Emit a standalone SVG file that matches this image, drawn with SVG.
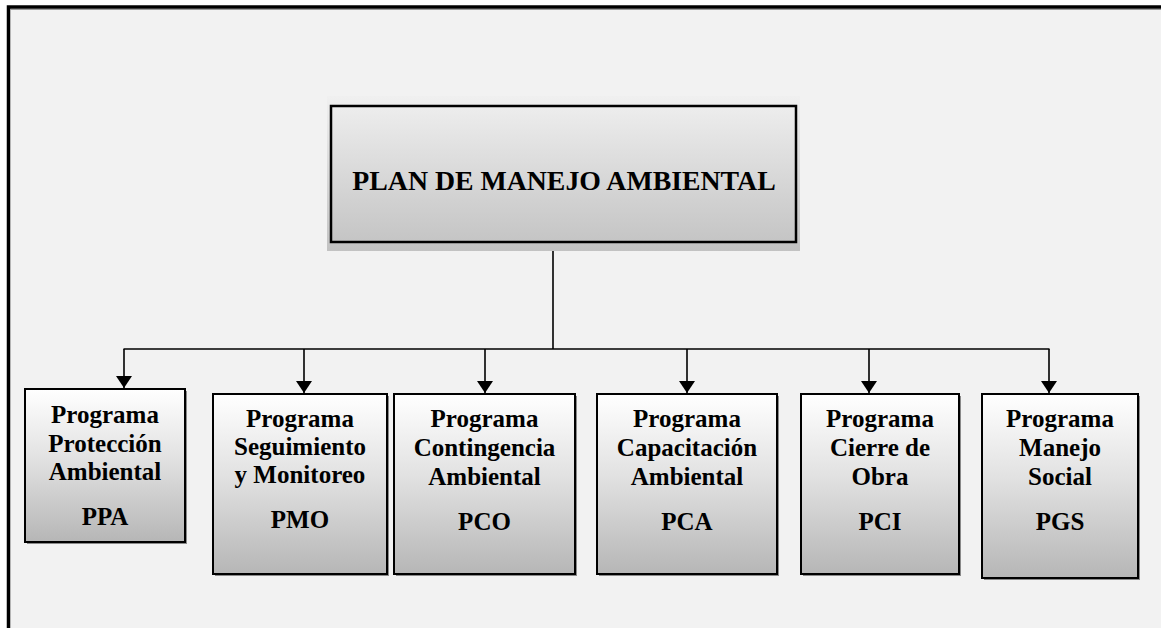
<svg xmlns="http://www.w3.org/2000/svg" width="1161" height="628" viewBox="0 0 1161 628">
<defs>
<linearGradient id="gTop" x1="0" y1="0" x2="0" y2="1">
<stop offset="0" stop-color="#f0f0f0"/>
<stop offset="1" stop-color="#c2c2c2"/>
</linearGradient>
<linearGradient id="gBox" x1="0" y1="0" x2="0" y2="1">
<stop offset="0" stop-color="#ffffff"/>
<stop offset="0.45" stop-color="#e2e2e2"/>
<stop offset="1" stop-color="#b6b6b6"/>
</linearGradient>
<marker id="arr" viewBox="0 0 12 16" refX="12" refY="8" markerWidth="12" markerHeight="16" markerUnits="userSpaceOnUse" orient="auto">
<path d="M0,0 L12,8 L0,16 Z" fill="#000"/>
</marker>
</defs>
<style>
text{font-family:'Liberation Serif','Times New Roman','DejaVu Serif',serif;font-weight:700;fill:#000;text-anchor:middle}
.title{font-size:27.8px}
.s{font-size:25px}
.box{fill:url(#gBox);stroke:#000;stroke-width:2}
.sh{fill:#8a8a8a}
.ln{stroke:#000;stroke-width:1.6;fill:none}
</style>
<rect x="0" y="0" width="1161" height="628" fill="#ffffff"/>
<rect x="8.5" y="7" width="1170" height="640" fill="#f2f2f2" stroke="#000" stroke-width="3.5"/>
<line x1="10" y1="9.5" x2="1161" y2="9.5" stroke="#9a9a9a" stroke-width="1"/>

<g id="connectors">
<line class="ln" x1="553" y1="251" x2="553" y2="349"/>
<line class="ln" x1="123.5" y1="349" x2="1049.5" y2="349" stroke-width="2"/>
<line class="ln" x1="124" y1="349" x2="124" y2="388" marker-end="url(#arr)"/>
<line class="ln" x1="304" y1="349" x2="304" y2="393" marker-end="url(#arr)"/>
<line class="ln" x1="485" y1="349" x2="485" y2="393" marker-end="url(#arr)"/>
<line class="ln" x1="687" y1="349" x2="687" y2="393" marker-end="url(#arr)"/>
<line class="ln" x1="869" y1="349" x2="869" y2="393" marker-end="url(#arr)"/>
<line class="ln" x1="1049" y1="349" x2="1049" y2="393" marker-end="url(#arr)"/>
</g>

<g id="plan">
<rect x="327" y="96" width="473" height="155" fill="url(#gTop)"/>
<rect x="331" y="106" width="465" height="136" fill="none" stroke="#000" stroke-width="2.5"/>
<text class="title" x="564" y="190">PLAN DE MANEJO AMBIENTAL</text>
</g>

<g id="ppa">
<rect class="sh" x="27" y="391" width="160" height="153"/>
<rect class="box" x="25" y="389" width="160" height="153"/>
<text class="s" x="105" y="423">Programa</text>
<text class="s" x="105" y="452">Protección</text>
<text class="s" x="105" y="480">Ambiental</text>
<text class="s" x="105" y="525">PPA</text>
</g>

<g id="pmo">
<rect class="sh" x="215" y="396" width="174" height="180"/>
<rect class="box" x="213" y="394" width="174" height="180"/>
<text class="s" x="300" y="427">Programa</text>
<text class="s" x="300" y="455">Seguimiento</text>
<text class="s" x="300" y="483">y Monitoreo</text>
<text class="s" x="300" y="528">PMO</text>
</g>

<g id="pco">
<rect class="sh" x="396" y="396" width="181" height="180"/>
<rect class="box" x="394" y="394" width="181" height="180"/>
<text class="s" x="484.5" y="427">Programa</text>
<text class="s" x="484.5" y="456">Contingencia</text>
<text class="s" x="484.5" y="485">Ambiental</text>
<text class="s" x="484.5" y="530">PCO</text>
</g>

<g id="pca">
<rect class="sh" x="599" y="396" width="180" height="180"/>
<rect class="box" x="597" y="394" width="180" height="180"/>
<text class="s" x="687" y="427">Programa</text>
<text class="s" x="687" y="456">Capacitación</text>
<text class="s" x="687" y="485">Ambiental</text>
<text class="s" x="687" y="530">PCA</text>
</g>

<g id="pci">
<rect class="sh" x="803" y="396" width="158" height="180"/>
<rect class="box" x="801" y="394" width="158" height="180"/>
<text class="s" x="880" y="427">Programa</text>
<text class="s" x="880" y="456">Cierre de</text>
<text class="s" x="880" y="485">Obra</text>
<text class="s" x="880" y="530">PCI</text>
</g>

<g id="pgs">
<rect class="sh" x="984" y="396" width="156" height="184"/>
<rect class="box" x="982" y="394" width="156" height="184"/>
<text class="s" x="1060" y="427">Programa</text>
<text class="s" x="1060" y="456">Manejo</text>
<text class="s" x="1060" y="485">Social</text>
<text class="s" x="1060" y="530">PGS</text>
</g>
</svg>
